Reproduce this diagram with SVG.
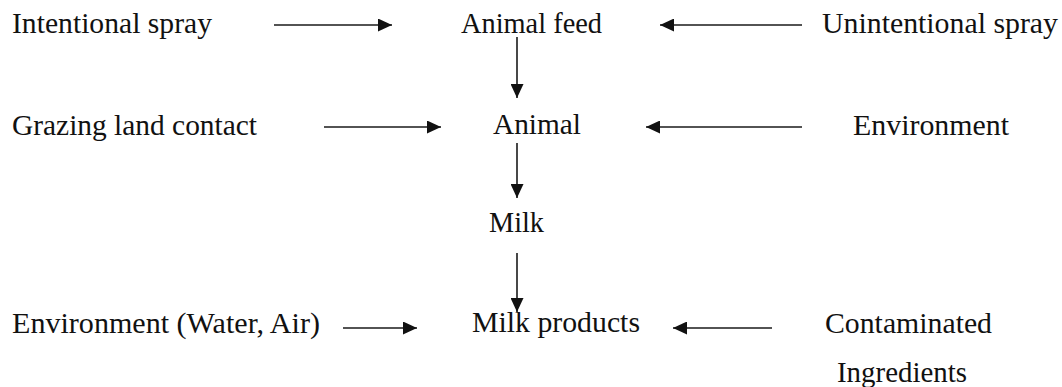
<svg xmlns="http://www.w3.org/2000/svg" width="1062" height="387" viewBox="0 0 1062 387">
  <style>
    text { font-family: 'Liberation Serif', 'Times New Roman', Tinos, 'DejaVu Serif', serif; font-size: 29px; fill: #111; }
    .conn { stroke: #1a1a1a; stroke-width: 1.6; fill: none; marker-end: url(#arrow); }
  </style>
  <defs>
    <marker id="arrow" markerUnits="userSpaceOnUse" markerWidth="14" markerHeight="13" refX="14" refY="6.5" orient="auto">
      <path d="M0,0 L14,6.5 L0,13 Z" fill="#111"/>
    </marker>
  </defs>
  <rect width="1062" height="387" fill="#ffffff"/>

  <g id="connectors">
    <line class="conn" x1="274" y1="25" x2="392" y2="25"/>
    <line class="conn" x1="802" y1="25" x2="660" y2="25"/>
    <line class="conn" x1="517" y1="37" x2="517" y2="98"/>
    <line class="conn" x1="324" y1="127" x2="441" y2="127"/>
    <line class="conn" x1="802" y1="127" x2="646" y2="127"/>
    <line class="conn" x1="517" y1="143" x2="517" y2="198"/>
    <line class="conn" x1="517" y1="253" x2="517" y2="312"/>
    <line class="conn" x1="343" y1="328" x2="417" y2="328"/>
    <line class="conn" x1="772" y1="328" x2="673" y2="328"/>
  </g>

  <g id="intentional-spray"><text x="12" y="33" textLength="200" lengthAdjust="spacingAndGlyphs">Intentional spray</text></g>
  <g id="animal-feed"><text x="461" y="33" textLength="141" lengthAdjust="spacingAndGlyphs">Animal feed</text></g>
  <g id="unintentional-spray"><text x="822" y="33" textLength="236" lengthAdjust="spacingAndGlyphs">Unintentional spray</text></g>
  <g id="grazing-land-contact"><text x="12" y="135" textLength="245" lengthAdjust="spacingAndGlyphs">Grazing land contact</text></g>
  <g id="animal"><text x="493" y="134" textLength="88" lengthAdjust="spacingAndGlyphs">Animal</text></g>
  <g id="environment"><text x="853" y="135" textLength="156" lengthAdjust="spacingAndGlyphs">Environment</text></g>
  <g id="milk"><text x="489" y="232" textLength="55" lengthAdjust="spacingAndGlyphs">Milk</text></g>
  <g id="environment-water-air"><text x="12" y="333" textLength="308" lengthAdjust="spacingAndGlyphs">Environment (Water, Air)</text></g>
  <g id="milk-products"><text x="472" y="332" textLength="168" lengthAdjust="spacingAndGlyphs">Milk products</text></g>
  <g id="contaminated-ingredients">
    <text x="825" y="333" textLength="167" lengthAdjust="spacingAndGlyphs">Contaminated</text>
    <text x="837" y="382" textLength="130" lengthAdjust="spacingAndGlyphs">Ingredients</text>
  </g>
</svg>
